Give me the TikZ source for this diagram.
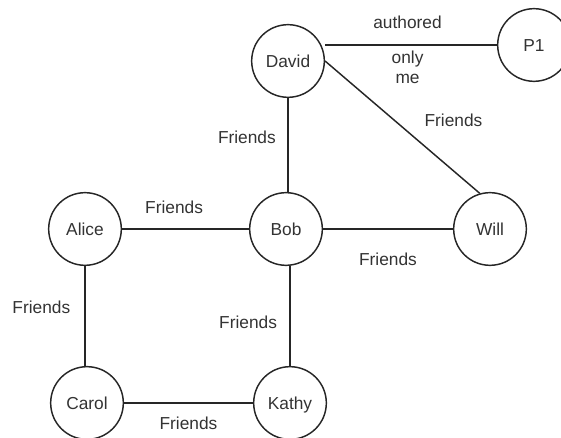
\documentclass[tikz,border=0pt]{standalone}
\usepackage{fontspec}
\setmainfont{Liberation Sans}
\usepackage{tikz}
\usetikzlibrary{positioning}
\definecolor{EdgeGray}{HTML}{262626}
\definecolor{TextGray}{HTML}{333333}

\begin{document}
\begin{tikzpicture}[x=0.75pt, y=-0.75pt,
  every node/.style={font=\fontsize{13pt}{15pt}\selectfont, text=TextGray},
  person/.style={draw=EdgeGray, line width=1.1pt, circle, minimum size=54.5pt, inner sep=1pt,
                 text height=9.4pt, text depth=0pt},
  link/.style={draw=EdgeGray, line width=1.1pt},
  lbl/.style={inner sep=0pt, align=center}]

  \useasboundingbox (0,0) rectangle (561,438);

  % ===== people and post =====
  \node[person] (David) at (288,61)  {David};
  \node[person] (P1)    at (534,45)  {P1};
  \node[person] (Will)  at (490,229) {Will};
  \node[person] (Bob)   at (286,229) {Bob};
  \node[person] (Alice) at (85,229)  {Alice};
  \node[person] (Carol) at (87,403)  {Carol};
  \node[person] (Kathy) at (290,403) {Kathy};

  % ===== authored edge =====
  \draw[link] (David.east |- P1.west) --
        node[lbl,pos=.48,above=11.8pt] (lAuth) {authored}
        node[lbl,pos=.48,below=3.7pt] (lOnly) {only\\ me} (P1.west);

  % ===== friendship edges =====
  \draw[link] (David.east) -- node[lbl,pos=.83,above=32.4pt] (lDW) {Friends} (Will.106);
  \draw[link] (David.south) -- node[lbl,pos=.42,left=8.6pt] (lDB) {Friends} (David |- Bob.north);
  \draw[link] (Alice.east) -- node[lbl,pos=.41,above=11pt] (lAB) {Friends} (Bob.west);
  \draw[link] (Bob.east) -- node[lbl,pos=.5,below=17.5pt] (lBW) {Friends} (Will.west);
  \draw[link] (Kathy |- Bob.south) -- node[lbl,pos=.56,left=9.2pt] (lBK) {Friends} (Kathy.north);
  \draw[link] (Alice.south) -- node[lbl,pos=.41,left=10.5pt] (lAC) {Friends} (Alice |- Carol.north);
  \draw[link] (Carol.east) -- node[lbl,pos=.5,below=10pt] (lCK) {Friends} (Kathy.west);

\end{tikzpicture}
\end{document}
